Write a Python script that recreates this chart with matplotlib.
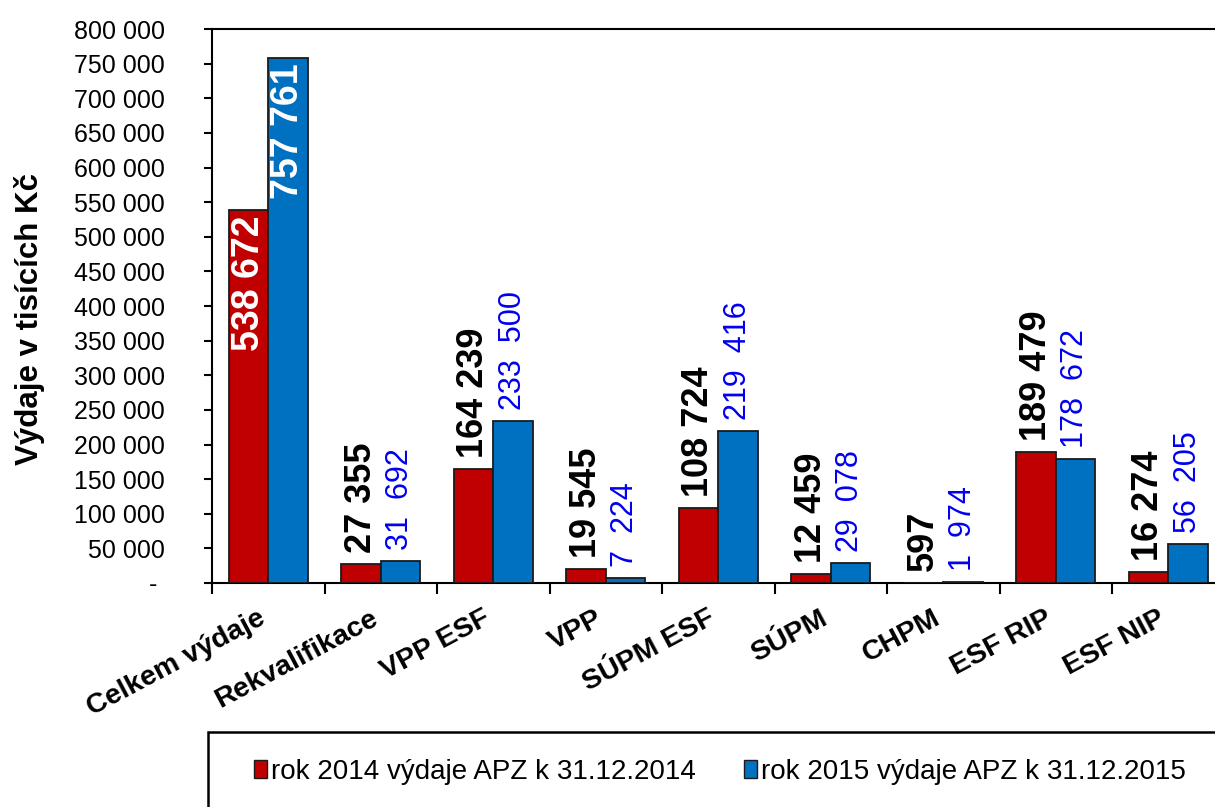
import numpy as np
import matplotlib
matplotlib.use("Agg")
import matplotlib.pyplot as plt
from matplotlib.patches import Rectangle, Patch
from matplotlib.ticker import FixedLocator, FuncFormatter
from matplotlib.transforms import ScaledTranslation

plt.rcParams['font.family'] = ['Liberation Sans', 'DejaVu Sans']

#########--------- DATA
categories = ["Celkem výdaje", "Rekvalifikace", "VPP ESF", "VPP", "SÚPM ESF",
              "SÚPM", "CHPM", "ESF RIP", "ESF NIP"]
v2014 = [538672, 27355, 164239, 19545, 108724, 12459, 597, 189479, 16274]
v2015 = [757761, 31692, 233500, 7224, 219416, 29078, 1974, 178672, 56205]
series_names = ["rok 2014 výdaje APZ k 31.12.2014", "rok 2015 výdaje APZ k 31.12.2015"]
y_ticks = np.arange(0, 800001, 50000)

red = "#C00000"
blue = "#0070C0"


def fmt_num(v, sep=" "):
    s = f"{int(v):,}"
    return s.replace(",", sep)


#########--------- PLOT
W, H = 1215, 807
fig = plt.figure(figsize=(W / 100, H / 100), dpi=100)
ax = fig.add_axes([212 / W, 1 - 583 / H, (1224.5 - 212) / W, (583 - 29) / H])

x = np.arange(len(categories))
w = 0.35
ax.bar(x - w / 2, v2014, w, color=red, edgecolor="#1a1a1a", linewidth=1.3, zorder=3)
ax.bar(x + w / 2, v2015, w, color=blue, edgecolor="#1a1a1a", linewidth=1.3, zorder=3)

ax.set_xlim(-0.5, len(categories) - 0.5)
ax.set_ylim(0, 800000)

# data labels
for i in range(len(categories)):
    if i == 0:
        # first group has labels inside the bars
        ax.annotate(fmt_num(v2014[i]), (x[i] - w / 2, v2014[i]), xytext=(0, -4),
                    textcoords="offset points", rotation=90, ha="center", va="top",
                    color="white", fontsize=27, fontweight="bold", zorder=5)
        ax.annotate(fmt_num(v2015[i]), (x[i] + w / 2, v2015[i]), xytext=(0, -4),
                    textcoords="offset points", rotation=90, ha="center", va="top",
                    color="white", fontsize=27, fontweight="bold", zorder=5)
    else:
        ax.annotate(fmt_num(v2014[i]), (x[i] - w / 2, v2014[i]), xytext=(0, 8),
                    textcoords="offset points", rotation=90, ha="center", va="bottom",
                    color="black", fontsize=26, fontweight="bold", zorder=5)
        ax.annotate(fmt_num(v2015[i], "  "), (x[i] + w / 2, v2015[i]), xytext=(0, 8),
                    textcoords="offset points", rotation=90, ha="center", va="bottom",
                    color="#0000F0", fontsize=22, zorder=5)

# axes style
for s in ax.spines.values():
    s.set_linewidth(1.5)
    s.set_color("black")

ax.yaxis.set_major_locator(FixedLocator(y_ticks))
ax.yaxis.set_major_formatter(FuncFormatter(lambda v, p: "- " if v == 0 else fmt_num(v)))
ax.tick_params(axis="y", direction="out", length=6, width=1.5, pad=28, labelsize=18)

ax.set_xticks(x)
ax.set_xticklabels(categories, rotation=28, ha="right", rotation_mode="anchor",
                   fontsize=20.5, fontweight="bold")
ax.tick_params(axis="x", which="major", length=0, pad=16)
shift = ScaledTranslation(-11 / 100, 0, fig.dpi_scale_trans)
for lab in ax.get_xticklabels():
    lab.set_transform(lab.get_transform() + shift)
ax.set_xticks(np.arange(len(categories) + 1) - 0.5, minor=True)
ax.tick_params(axis="x", which="minor", direction="out", length=8, width=1.5)

fig.text(30 / W, 1 - 319 / H, "Výdaje v tisících Kč", rotation=90, ha="center", va="center",
         fontsize=22.5, fontweight="bold")

# legend box
fig.patches.append(Rectangle((208 / W, -0.05), 1.0, (807 - 732) / H + 0.05,
                             transform=fig.transFigure, fill=False,
                             edgecolor="black", linewidth=1.8))
handles = [Patch(facecolor=red, edgecolor="#1a1a1a", linewidth=1.0),
           Patch(facecolor=blue, edgecolor="#1a1a1a", linewidth=1.0)]
fig.legend(handles, series_names, loc="center left", bbox_to_anchor=(254 / W, 1 - 772 / H),
           frameon=False, fontsize=20, ncol=2, handlelength=0.45, handleheight=0.6,
           handletextpad=0.15, columnspacing=1.75, borderpad=0, borderaxespad=0)

fig.savefig("out.png", dpi=100)
